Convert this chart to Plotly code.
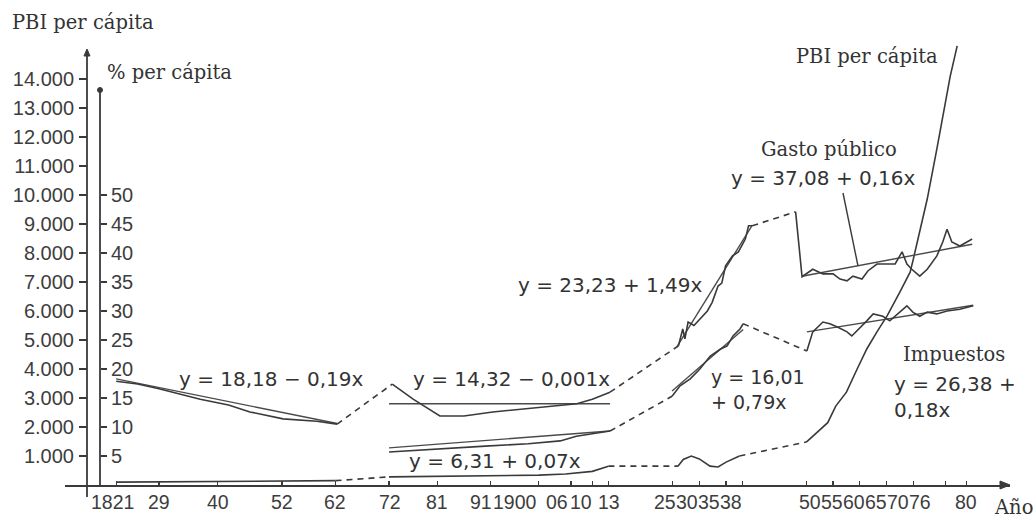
import plotly.graph_objects as go

# ---------------- data ----------------
# x-axis ticks (years) and their printed labels
tick_years = [1821, 1829, 1840, 1852, 1862, 1872, 1881, 1891, 1900, 1906, 1910, 1913,
              1925, 1930, 1935, 1938, 1950, 1955, 1960, 1965, 1970, 1976, 1980]
tick_labels = ["1821", "29", "40", "52", "62", "72", "81", "91", "1900", "06", "10", "13",
               "25", "30", "35", "38", "50", "55", "60", "65", "70", "76", "80"]

# left axis: PBI per cápita
pbi_ticks = [1000, 2000, 3000, 4000, 5000, 6000, 7000, 8000, 9000, 10000, 11000, 12000, 13000, 14000]
pbi_tick_labels = ["1.000", "2.000", "3.000", "4.000", "5.000", "6.000", "7.000", "8.000",
                   "9.000", "10.000", "11.000", "12.000", "13.000", "14.000"]
# second axis: % per cápita
pct_ticks = [5, 10, 15, 20, 25, 30, 35, 40, 45, 50]
pct_tick_labels = ["5", "10", "15", "20", "25", "30", "35", "40", "45", "50"]

# PBI per cápita (solid segments; gaps are joined with dashes)
pbi_1_years = [1821, 1830, 1840, 1850, 1862]
pbi_1_vals = [100, 110, 120, 130, 150]
pbi_2_years = [1872, 1880, 1890, 1900, 1905, 1910, 1913]
pbi_2_vals = [280, 300, 320, 340, 380, 470, 650]
pbi_3_years = [1926, 1927, 1928.5, 1930, 1932, 1933.5, 1935, 1937.5]
pbi_3_vals = [650, 880, 1000, 900, 650, 620, 790, 1000]
pbi_4_years = [1950, 1952.5, 1954, 1955.5, 1957.5, 1959.5, 1961.3, 1963.2, 1965.1, 1967.5,
               1969.4, 1970, 1971.2, 1972.6, 1974.4, 1975.5, 1976.9, 1978.2]
pbi_4_vals = [1480, 1890, 2150, 2720, 3200, 4000, 4690, 5280, 5830, 6660,
              7340, 7790, 8720, 9860, 11590, 12720, 14100, 15140]

# Gasto público (% per cápita)
gasto_1_years = [1821, 1825, 1829, 1836.7, 1842, 1846, 1852.2, 1858.5, 1862.3]
gasto_1_vals = [17.9, 17.4, 16.6, 14.8, 13.8, 12.6, 11.4, 11.0, 10.5]
gasto_2_years = [1872.6, 1876.5, 1881.5, 1886, 1891.4, 1896, 1900.8, 1907.1, 1910, 1913.3]
gasto_2_vals = [17.4, 14.8, 11.9, 11.9, 12.6, 13.0, 13.4, 14.0, 14.8, 16.0]
gasto_3_years = [1926.1, 1926.9, 1927.3, 1927.9, 1929, 1930.6, 1931.5, 1932.4, 1933.5,
                 1934.2, 1934.9, 1936.2, 1937.3, 1938.6, 1939.2, 1939.9]
gasto_3_vals = [24.0, 26.9, 25.2, 28.1, 27.5, 29.1, 30.0, 31.5, 34.3,
                34.8, 37.8, 39.5, 40.2, 42.4, 44.7, 44.7]
gasto_4_years = [1948, 1949.2, 1951.2, 1953.1, 1955.0, 1956.3, 1957.6, 1958.7, 1960.4, 1961.5,
                 1963.2, 1965.1, 1966.6, 1967.9, 1968.8, 1969.7, 1971.2, 1972.6, 1974.4,
                 1975.5, 1976.3, 1977.2, 1978.7, 1981.0]
gasto_4_vals = [47.1, 35.9, 37.2, 36.4, 36.4, 35.5, 35.2, 36.0, 35.5, 36.9,
                38.1, 38.1, 38.1, 40.2, 38.1, 37.2, 36.0, 37.2, 39.5,
                41.9, 44.1, 41.9, 41.2, 42.4]

# Impuestos (% per cápita)
imp_2_years = [1872, 1880, 1890, 1898, 1904, 1907, 1910, 1913.3]
imp_2_vals = [5.7, 6.2, 6.7, 7.1, 7.6, 8.4, 8.8, 9.3]
imp_3_years = [1924.9, 1926.4, 1928.3, 1930.1, 1932, 1933.9, 1935.2, 1936.3, 1937.6, 1938.2]
imp_3_vals = [15.3, 17.1, 18.3, 20.0, 22.2, 23.4, 24.0, 25.7, 26.9, 27.8]
imp_4_years = [1950.1, 1951.2, 1953.1, 1954.4, 1955.9, 1957.6, 1958.5, 1959.5, 1961.3, 1962.5,
               1964.3, 1965.6, 1967.5, 1968.8, 1969.9, 1971.2, 1972.6, 1974.4, 1976.3,
               1978.7, 1981.2]
imp_4_vals = [23.1, 26.4, 28.1, 27.8, 27.2, 26.4, 25.7, 26.6, 28.3, 29.5,
              29.1, 28.3, 29.8, 30.9, 29.8, 29.1, 29.8, 29.5, 30.0,
              30.3, 30.9]

# fitted trend lines (end points)
trend_gasto_1_years, trend_gasto_1_vals = [1821, 1862.3], [18.3, 10.6]
trend_gasto_2_years, trend_gasto_2_vals = [1872, 1913.3], [14.0, 14.0]
trend_gasto_3_years, trend_gasto_3_vals = [1925.8, 1939.9], [23.8, 44.8]
trend_gasto_4_years, trend_gasto_4_vals = [1949.2, 1981.0], [36.0, 41.5]
trend_imp_2_years, trend_imp_2_vals = [1872, 1913.3], [6.4, 9.3]
trend_imp_3_years, trend_imp_3_vals = [1924.9, 1938.2], [16.2, 26.8]
trend_imp_4_years, trend_imp_4_vals = [1950.1, 1981.2], [26.4, 31.0]

# ---------------- layout geometry ----------------
W, H = 1036, 522
PX_L, PX_R, PX_T, PX_B = 65, 1010, 45, 485
X_RANGE = [1811.43, 1988.07]
Y_TOP = 15172
Y_RANGE = [0, Y_TOP]
Y2_RANGE = [0, Y_TOP / 200.0]

# where the (crowded) year labels are printed, in pixels from the left edge
tick_label_px = [112, 159, 218, 282, 335, 390, 437, 481, 515, 557, 581, 609,
                 665, 687, 709, 731, 810, 832, 854, 876, 898, 920, 966]


def fx(px):
    return (px - PX_L) / (PX_R - PX_L)


def fy(py):
    return (PX_B - py) / (PX_B - PX_T)


INK = "#3a3a3a"
TXT = "#333333"
LW = 1.6
DASH = "6px,5px"
SANS = "DejaVu Sans"
SERIF = "DejaVu Serif"
TICKFONT = dict(family="Liberation Sans", size=20, color="#3d3d3d")

fig = go.Figure()


def add_line(xs, ys, axis, dash=None, width=LW, color=INK):
    fig.add_trace(go.Scatter(
        x=xs, y=ys, mode="lines", yaxis=axis, showlegend=False, hoverinfo="skip",
        line=dict(color=color, width=width, dash=dash if dash else "solid"),
        cliponaxis=False))


def add_series(segments, axis):
    for i, (xs, ys) in enumerate(segments):
        add_line(xs, ys, axis)
        if i + 1 < len(segments):
            nx, ny = segments[i + 1]
            add_line([xs[-1], nx[0]], [ys[-1], ny[0]], axis, dash=DASH)


# trend lines
for tx, ty in [(trend_gasto_1_years, trend_gasto_1_vals), (trend_gasto_2_years, trend_gasto_2_vals),
               (trend_gasto_3_years, trend_gasto_3_vals), (trend_gasto_4_years, trend_gasto_4_vals),
               (trend_imp_2_years, trend_imp_2_vals), (trend_imp_3_years, trend_imp_3_vals),
               (trend_imp_4_years, trend_imp_4_vals)]:
    add_line(tx, ty, "y2", width=1.4, color="#4a4a4a")

add_series([(pbi_1_years, pbi_1_vals), (pbi_2_years, pbi_2_vals),
            (pbi_3_years, pbi_3_vals), (pbi_4_years, pbi_4_vals)], "y")
add_series([(gasto_1_years, gasto_1_vals), (gasto_2_years, gasto_2_vals),
            (gasto_3_years, gasto_3_vals), (gasto_4_years, gasto_4_vals)], "y2")
add_series([(imp_2_years, imp_2_vals), (imp_3_years, imp_3_vals),
            (imp_4_years, imp_4_vals)], "y2")

fig.update_layout(
    width=W, height=H,
    margin=dict(l=PX_L, r=W - PX_R, t=PX_T, b=H - PX_B, pad=0),
    paper_bgcolor="white", plot_bgcolor="white",
    showlegend=False,
    xaxis=dict(range=X_RANGE, tickvals=tick_years, showticklabels=False,
               ticks="inside", ticklen=4, tickwidth=1.2, tickcolor=INK,
               showline=True, linecolor=INK, linewidth=1.6, showgrid=False, zeroline=False,
               fixedrange=True),
    yaxis=dict(range=Y_RANGE, tickvals=pbi_ticks, ticktext=pbi_tick_labels,
               anchor="free", position=fx(87), side="left",
               ticks="outside", ticklen=8, tickwidth=1.3, tickcolor=INK,
               showline=False, showgrid=False, zeroline=False, tickfont=TICKFONT,
               ticklabelstandoff=1, fixedrange=True),
    yaxis2=dict(range=Y2_RANGE, tickvals=pct_ticks, ticktext=pct_tick_labels,
                overlaying="y", anchor="free", position=fx(100), side="right",
                ticks="outside", ticklen=6, tickwidth=1.3, tickcolor=INK,
                showline=False, showgrid=False, zeroline=False, tickfont=TICKFONT,
                ticklabelstandoff=0, fixedrange=True),
)

# year labels (printed squeezed together, as in the reference)
for yr, txt, px in zip(tick_years, tick_labels, tick_label_px):
    fig.add_annotation(text=txt, xref="paper", yref="paper", x=fx(px), y=fy(502),
                       xanchor="center", yanchor="middle", showarrow=False, borderpad=0,
                       font=dict(family="Liberation Sans", size=19.5, color="#3d3d3d"))

# axis lines drawn as shapes so they can extend beyond the plotting area
shapes = [
    dict(type="line", xref="paper", yref="paper", x0=fx(87), x1=fx(87), y0=fy(497), y1=fy(52),
         line=dict(color=INK, width=1.8)),
    dict(type="line", xref="paper", yref="paper", x0=fx(100), x1=fx(100), y0=fy(485), y1=fy(90),
         line=dict(color=INK, width=1.8)),
    # arrow head of the year axis
    dict(type="path", xref="paper", yref="paper",
         path=f"M {fx(1010)},{fy(485)} L {fx(1000)},{fy(481)} L {fx(1000)},{fy(489)} Z",
         fillcolor=INK, line=dict(color=INK, width=1)),
    # arrow head of the PBI axis
    dict(type="path", xref="paper", yref="paper",
         path=f"M {fx(87)},{fy(49)} L {fx(84)},{fy(56)} L {fx(90)},{fy(56)} Z",
         fillcolor=INK, line=dict(color=INK, width=1)),
    # dot at the top of the % axis
    dict(type="circle", xref="paper", yref="paper", x0=fx(97.5), x1=fx(102.5), y0=fy(92.5), y1=fy(87.5),
         fillcolor=INK, line=dict(color=INK, width=1)),
    # leader from the "Gasto público" label
    dict(type="line", xref="paper", yref="paper", x0=fx(843), y0=fy(193), x1=fx(858), y1=fy(266),
         line=dict(color=INK, width=1.4)),
]
fig.update_layout(shapes=shapes)


def label(text, left_px, cy_px, serif=False, size=None):
    fig.add_annotation(
        text=text, xref="paper", yref="paper", x=fx(left_px), y=fy(cy_px),
        xanchor="left", yanchor="middle", align="left", showarrow=False, borderpad=0,
        font=dict(family=SERIF if serif else SANS, size=size or (19.5 if serif else 20), color=TXT))


label("PBI per cápita", 11, 23, serif=True)
label("% per cápita", 106, 73, serif=True)
label("y = 18,18 \u2212 0,19x", 178, 379)
label("y = 14,32 \u2212 0,001x", 412, 379)
label("y = 6,31 + 0,07x", 408, 461)
label("y = 23,23 + 1,49x", 517, 285)
label("y = 16,01<br>+ 0,79x", 710, 389, size=19)
label("PBI per cápita", 795, 56, serif=True)
label("Gasto público", 760, 149, serif=True)
label("y = 37,08 + 0,16x", 730, 178)
label("Impuestos", 902, 354, serif=True)
label("y = 26,38 +<br>0,18x", 893, 397)
label("Año", 993, 507, serif=True)

fig.write_html("out.html", config={"displayModeBar": False, "staticPlot": True},
               post_script="document.body.style.margin='0px';")
